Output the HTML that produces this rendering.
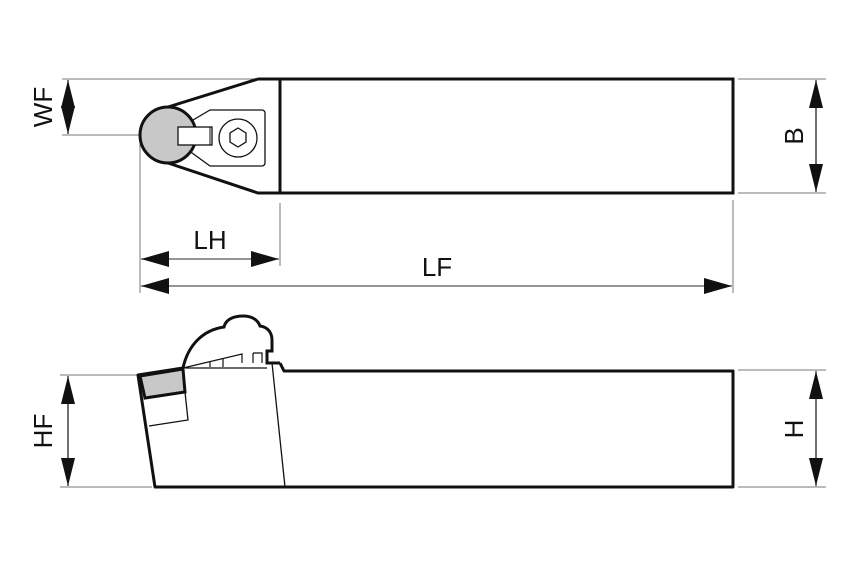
<html><body style="margin:0;background:#fff">
<svg width="850" height="567" viewBox="0 0 850 567" xmlns="http://www.w3.org/2000/svg" font-family="Liberation Sans, sans-serif">
<defs>
<marker id="a" viewBox="0 0 10 10" refX="10" refY="5" markerWidth="9" markerHeight="9" markerUnits="userSpaceOnUse" orient="auto-start-reverse"><path d="M0,0L10,5L0,10z" fill="#111"/></marker>
<marker id="b" viewBox="0 0 10 10" refX="10" refY="5" markerWidth="28" markerHeight="14" markerUnits="userSpaceOnUse" orient="auto-start-reverse" preserveAspectRatio="none"><path d="M0,0L10,5L0,10z" fill="#111"/></marker>
</defs>
<g stroke="#777" stroke-width="1" fill="none">
<line x1="62" y1="79" x2="258" y2="79"/><line x1="62" y1="135" x2="140" y2="135"/>
<line x1="140" y1="140" x2="140" y2="293"/><line x1="280" y1="203" x2="280" y2="266"/>
<line x1="733" y1="200" x2="733" y2="293"/>
<line x1="738" y1="79" x2="826" y2="79"/><line x1="738" y1="193" x2="826" y2="193"/>
<line x1="60" y1="375" x2="138" y2="375"/><line x1="60" y1="487" x2="152" y2="487"/>
<line x1="738" y1="370" x2="826" y2="370"/><line x1="738" y1="487" x2="826" y2="487"/>
</g>
<g stroke="#111" stroke-width="1.2" fill="none">
<line x1="68" y1="80" x2="68" y2="107" marker-start="url(#b)"/><line x1="68" y1="108" x2="68" y2="134" marker-end="url(#b)"/>
<line x1="816" y1="80" x2="816" y2="192" marker-start="url(#b)" marker-end="url(#b)"/>
<line x1="68" y1="376" x2="68" y2="486" marker-start="url(#b)" marker-end="url(#b)"/>
<line x1="816" y1="371" x2="816" y2="486" marker-start="url(#b)" marker-end="url(#b)"/>
</g>
<g stroke="#111" stroke-width="1.2" fill="#111">
<line x1="141" y1="259" x2="279" y2="259" stroke="#555"/>
<path d="M141,259l28,-8v16z M279,259l-28,-8v16z" stroke="none"/>
<line x1="141" y1="286" x2="732" y2="286" stroke="#555"/>
<path d="M141,286l28,-8v16z M732,286l-28,-8v16z" stroke="none"/>
</g>
<g font-size="26" fill="#111">
<text x="0" y="0" transform="translate(52,107) rotate(-90)" text-anchor="middle">WF</text>
<text x="0" y="0" transform="translate(803,136) rotate(-90)" text-anchor="middle">B</text>
<text x="0" y="0" transform="translate(52,431) rotate(-90)" text-anchor="middle">HF</text>
<text x="0" y="0" transform="translate(803,429) rotate(-90)" text-anchor="middle">H</text>
<text x="210" y="249" text-anchor="middle">LH</text>
<text x="437" y="276" text-anchor="middle">LF</text>
</g>
<!-- top view -->
<g stroke="#111" fill="none">
<path d="M258,79H733V193H258L168,163 M258,79L168,107" stroke-width="3"/>
<line x1="280" y1="79" x2="280" y2="193" stroke-width="3"/>
<path d="M188,123L210,110H262a3,3 0 0 1 3,3V163a3,3 0 0 1 -3,3H210L188,150" stroke-width="1.3" fill="#fff"/>
<circle cx="168" cy="135" r="28" fill="#c8c8c8" stroke-width="3"/>
<rect x="178" y="127" width="34" height="18" fill="#fff" stroke-width="1.3"/>
<line x1="210" y1="127" x2="210" y2="145" stroke-width="1"/>
<circle cx="238" cy="138" r="19" stroke-width="1.3"/>
<path d="M238,128l8,5v9l-8,5l-8,-5v-9z" stroke-width="1.3"/>
</g>
<!-- side view -->
<g stroke="#111" fill="none">
<path d="M280,363L284,371H733V487H155L138,375L183,368" stroke-width="3" stroke-linejoin="round"/>
<path d="M140,376L183,369L185,392L145,398z" fill="#c8c8c8" stroke-width="3"/>
<path d="M145,398L185,392L188,420L149,426" stroke-width="1.3"/>
<line x1="272" y1="363" x2="285" y2="487" stroke-width="1.3"/>
<path d="M183,368C188,345 203,330 224,327C226,318 236,316 243,316C252,316 258,320 260,326C268,327 272,333 272,340V351H267V363H280" stroke-width="3"/>
<path d="M183,368L242,354V363M185,368H267" stroke-width="1.2"/>
<path d="M210,362V367M223,358V367M253,353H262V363M253,353V363" stroke-width="1.2"/>
</g>
</svg>
</body></html>
